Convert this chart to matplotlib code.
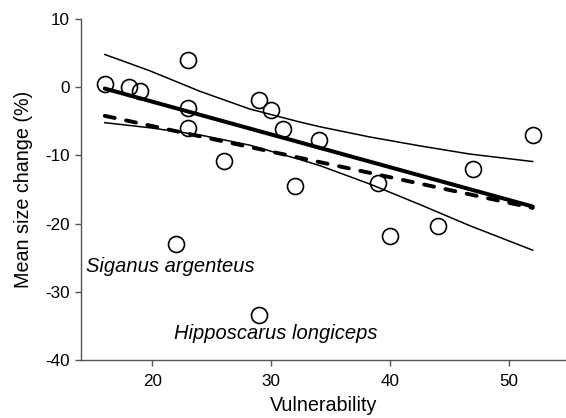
import matplotlib
matplotlib.use("Agg")
import matplotlib.pyplot as plt

plt.rcParams['font.family'] = ['Liberation Sans', 'DejaVu Sans']
plt.rcParams['axes.unicode_minus'] = False

# Species points
vuln = [16, 18, 19, 23, 23, 23, 22, 26, 29, 30, 31, 29, 32, 34, 39, 40, 44, 47, 52]
size_change = [0.5, 0.0, -0.5, 4.0, -3.0, -6.0, -23.0, -10.8, -1.9, -3.4, -6.1, -33.4,
               -14.5, -7.7, -14.1, -21.8, -20.3, -12.0, -7.0]

# Regression lines (end points)
fit_x = [16, 52]
fit_solid = [-0.2, -17.5]
fit_dashed = [-4.2, -17.7]

# Confidence band
band_x = [16, 19.8, 24, 28.2, 32.4, 34.1, 38.3, 42.5, 46.7, 52]
band_upper = [4.8, 2.4, -0.6, -3.2, -5.1, -5.8, -7.3, -8.6, -9.8, -10.9]
band_lower = [-5.2, -5.95, -7.0, -8.5, -10.6, -11.5, -14.2, -17.2, -20.3, -23.9]

xticks = [20, 30, 40, 50]
yticks = [-40, -30, -20, -10, 0, 10]

fig = plt.figure(figsize=(5.66, 4.18), dpi=100)
ax = fig.add_axes([81/566, 58/418, 485/566, 341/418])

ax.plot(band_x, band_upper, color='black', lw=1.1, zorder=2)
ax.plot(band_x, band_lower, color='black', lw=1.1, zorder=2)
ax.plot(fit_x, fit_solid, color='black', lw=2.9, solid_capstyle='round', zorder=3)
ax.plot(fit_x, fit_dashed, color='black', lw=2.8, linestyle=(0, (2.6, 3.0)),
        dash_capstyle='round', zorder=3)
ax.plot(vuln, size_change, linestyle='none', marker='o', markersize=11.5,
        markerfacecolor='none', markeredgecolor='black', markeredgewidth=1.2, zorder=4)

ax.text(14.4, -26.3, 'Siganus argenteus', fontsize=14.5, style='italic', va='center', ha='left')
ax.text(21.8, -36.1, 'Hipposcarus longiceps', fontsize=14.5, style='italic', va='center', ha='left')

ax.set_xlim(14, 54.8)
ax.set_ylim(-40, 10)
ax.set_xticks(xticks)
ax.set_yticks(yticks)
for s in ['top', 'right']:
    ax.spines[s].set_visible(False)
for s in ['left', 'bottom']:
    ax.spines[s].set_color('#555555')
    ax.spines[s].set_linewidth(1.0)
ax.tick_params(axis='x', direction='out', length=4, width=1.0, color='#555555', labelsize=12.3, pad=6)
ax.tick_params(axis='y', direction='out', length=4, width=1.0, color='#555555', labelsize=12.3, pad=4)
ax.set_xlabel('Vulnerability', fontsize=14.2, labelpad=5)
ax.set_ylabel('Mean size change (%)', fontsize=14.2, labelpad=9)

fig.savefig('out.png', dpi=100)
